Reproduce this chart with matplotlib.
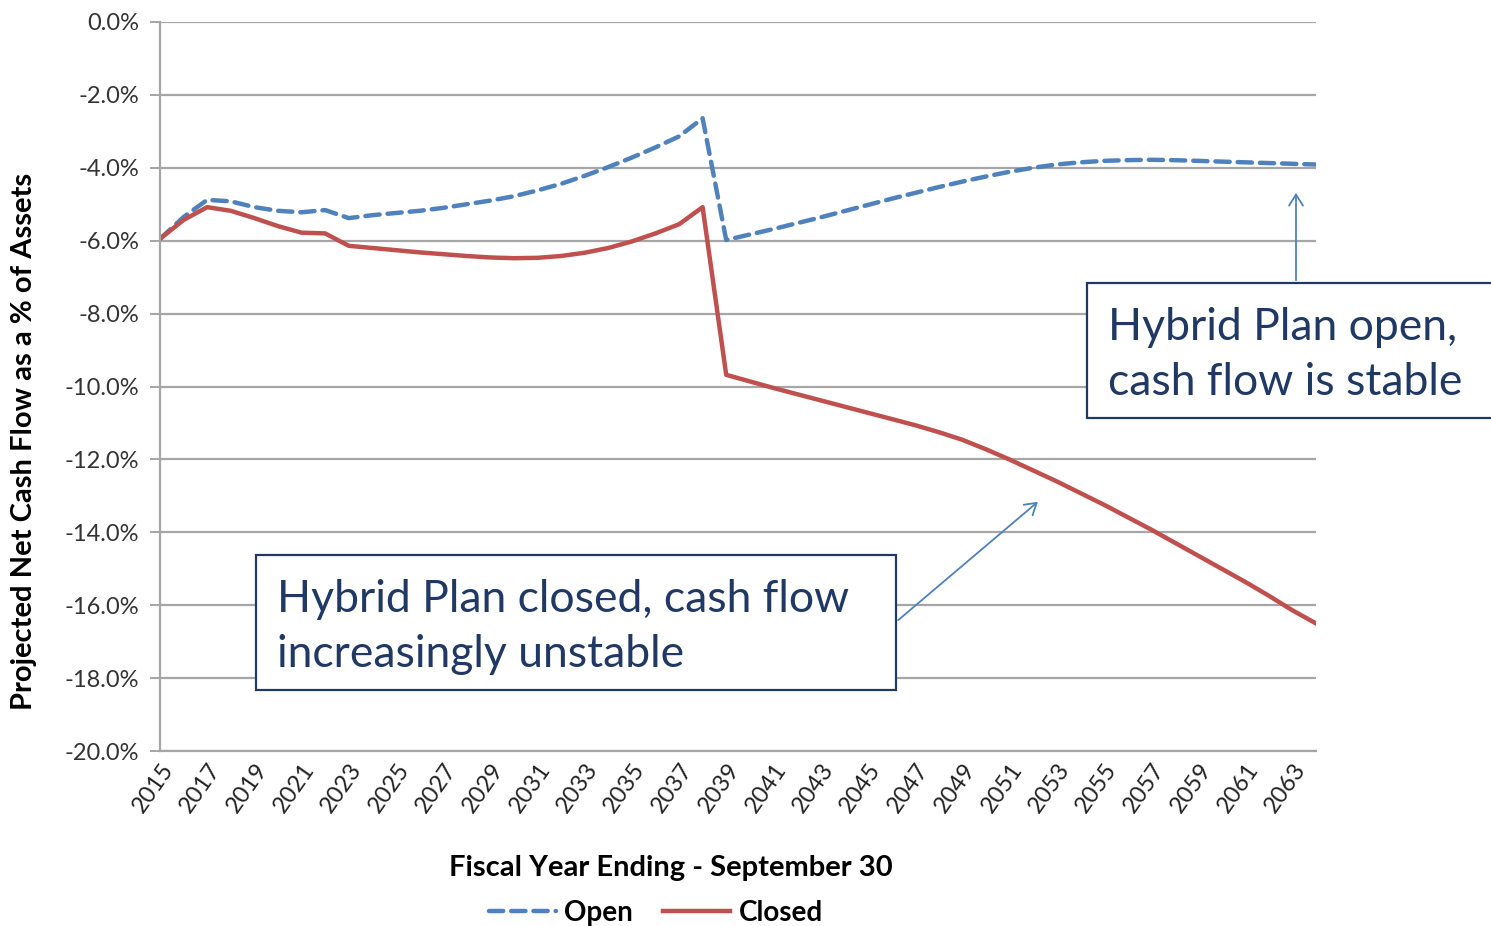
""" Projected net cash flow of the hybrid plan, open versus closed.
"""
import matplotlib
matplotlib.use('Agg')
import matplotlib.pyplot as plt
from matplotlib.patches import Rectangle, FancyArrowPatch
from matplotlib.ticker import FuncFormatter
import numpy as np

YEARS = list(range(2015, 2065))

OPEN = [-5.95, -5.35, -4.88, -4.92, -5.08, -5.18, -5.22, -5.16, -5.38, -5.30,
        -5.24, -5.18, -5.10, -5.00, -4.90, -4.78, -4.62, -4.44, -4.22, -3.98,
        -3.72, -3.44, -3.14, -2.64, -5.98, -5.83, -5.68, -5.52, -5.36, -5.19,
        -5.02, -4.85, -4.69, -4.53, -4.38, -4.24, -4.11, -4.00, -3.91, -3.85,
        -3.81, -3.79, -3.78, -3.79, -3.81, -3.83, -3.85, -3.87, -3.89, -3.91]

CLOSED = [-5.95, -5.43, -5.08, -5.18, -5.38, -5.60, -5.78, -5.80, -6.14, -6.20,
          -6.26, -6.32, -6.37, -6.42, -6.46, -6.48, -6.47, -6.42, -6.33, -6.20,
          -6.02, -5.80, -5.55, -5.08, -9.68, -9.86, -10.04, -10.21, -10.38,
          -10.55, -10.72, -10.89, -11.06, -11.25, -11.46, -11.72, -12.00,
          -12.30, -12.60, -12.92, -13.24, -13.58, -13.92, -14.28, -14.64,
          -15.00, -15.36, -15.74, -16.14, -16.50]

Y_TICKS = np.arange(0.0, -20.1, -2.0)
X_TICKS = YEARS[::2]

NOTE_OPEN = 'Hybrid Plan open,\ncash flow is stable'
NOTE_CLOSED = 'Hybrid Plan closed, cash flow\nincreasingly unstable'

BLUE = '#4F81BD'
RED = '#C0504D'
NAVY = '#1F3864'
GRID = '#A6A6A6'

W, H = 1491, 926
plt.rcParams['font.family'] = ['Lato', 'DejaVu Sans']


def fx(px):
    """ Pixel column to figure fraction. """
    return px / W


def fy(py):
    """ Pixel row (from top) to figure fraction. """
    return 1.0 - py / H


fig = plt.figure(figsize=(W / 100, H / 100), dpi=100)
ax = fig.add_axes([fx(160), fy(751), fx(1316) - fx(160), fy(22) - fy(751)])

# Series
ax.plot(YEARS, OPEN, color=BLUE, lw=3.2, ls=(0, (3.2, 1.8)),
        dash_capstyle='round', label='Open')
ax.plot(YEARS, CLOSED, color=RED, lw=3.2, label='Closed')

# Axes
ax.set_xlim(YEARS[0], YEARS[-1])
ax.set_ylim(-20, 0)
ax.set_yticks(Y_TICKS)
ax.yaxis.set_major_formatter(FuncFormatter(lambda v, p: '{:.1f}%'.format(v)))
ax.set_xticks(X_TICKS)
ax.set_xticklabels([str(y) for y in X_TICKS], rotation=55, ha='right',
                   rotation_mode='anchor')
ax.grid(axis='y', color=GRID, lw=1.6)
ax.set_axisbelow(True)
for side in ['top', 'right']:
    ax.spines[side].set_visible(False)
for side in ['left', 'bottom']:
    ax.spines[side].set_color(GRID)
    ax.spines[side].set_linewidth(1.6)
ax.tick_params(axis='y', labelsize=17, colors='#333333', length=7,
               width=1.4, color=GRID, pad=8)
ax.tick_params(axis='x', labelsize=17, colors='#222222', length=0, pad=6)

ax.set_ylabel('Projected Net Cash Flow as a % of Assets', fontsize=21,
              fontweight='bold')
ax.yaxis.set_label_coords(-0.106, 0.425)
ax.set_xlabel('Fiscal Year Ending - September 30', fontsize=21,
              fontweight='bold')
ax.xaxis.set_label_coords(0.442, -0.143)

leg = ax.legend(loc='center', bbox_to_anchor=(0.429, -0.222), ncol=2,
                frameon=False, fontsize=20, handlelength=2.4,
                columnspacing=1.1, handletextpad=0.3)
for txt in leg.get_texts():
    txt.set_fontweight('bold')

# Annotation boxes
for x0, y0, x1, y1 in [(1087, 283, 1496, 418), (256, 555, 896, 690)]:
    fig.patches.append(Rectangle((fx(x0), fy(y1)), fx(x1) - fx(x0),
                                 fy(y0) - fy(y1), transform=fig.transFigure,
                                 facecolor='white', edgecolor=NAVY, lw=1.6,
                                 zorder=5))
fig.text(fx(1108), fy(355), NOTE_OPEN, fontsize=32, color=NAVY,
         va='center', ha='left', linespacing=1.45, zorder=6)
fig.text(fx(277), fy(627), NOTE_CLOSED, fontsize=32, color=NAVY,
         va='center', ha='left', linespacing=1.45, zorder=6)

# Arrows
for start, end in [((1296, 283), (1296, 190)), ((896, 622), (1040, 500))]:
    fig.patches.append(FancyArrowPatch((fx(start[0]), fy(start[1])),
                                       (fx(end[0]), fy(end[1])),
                                       transform=fig.transFigure,
                                       arrowstyle='->,head_length=8,head_width=5',
                                       color=BLUE, lw=1.3, zorder=6))

plt.savefig('out.png', dpi=100)
